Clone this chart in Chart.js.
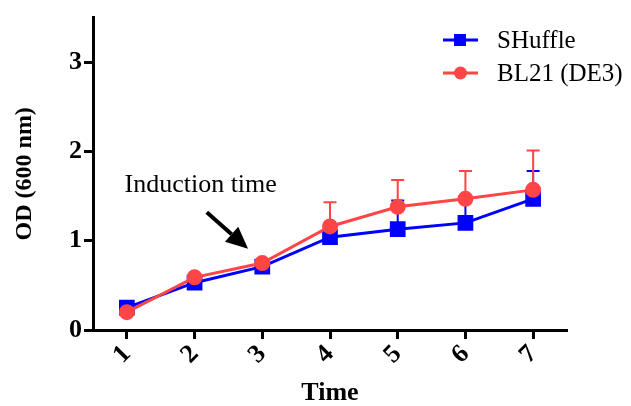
<!DOCTYPE html>
<html>
<head>
<meta charset="utf-8">
<script src="https://cdn.jsdelivr.net/npm/chart.js@4"></script>
<style>
  html, body { margin: 0; padding: 0; background: #fff; }
  #wrap { width: 631px; height: 406px; position: relative; }
</style>
</head>
<body>
<div id="wrap"><canvas id="c" width="631" height="406"></canvas></div>
<script>
const timeLabels = ['1', '2', '3', '4', '5', '6', '7'];
const shuffleOD = [0.25, 0.53, 0.71, 1.04, 1.13, 1.20, 1.47];
const shuffleErrTop = [0.27, 0.55, 0.73, 1.17, 1.45, 1.49, 1.78];
const bl21OD = [0.20, 0.59, 0.75, 1.16, 1.38, 1.47, 1.57];
const bl21ErrTop = [0.21, 0.61, 0.77, 1.43, 1.68, 1.78, 2.01];
const yTicks = [0, 1, 2, 3];
const seriesNames = ['SHuffle', 'BL21 (DE3)'];
const annotationText = 'Induction time';

const BLUE = '#0000FF';
const RED = '#FF4545';
const SERIF = '"Liberation Serif", "Times New Roman", serif';

const errorBars = {
  id: 'errorBars',
  beforeDatasetsDraw(chart) {
    const ctx = chart.ctx;
    const xs = chart.scales.x, ys = chart.scales.y;
    const sets = [[shuffleOD, shuffleErrTop, BLUE], [bl21OD, bl21ErrTop, RED]];
    ctx.save();
    sets.forEach(([vals, tops, col]) => {
      ctx.strokeStyle = col;
      ctx.lineWidth = 2;
      vals.forEach((v, i) => {
        const x = xs.getPixelForValue(i);
        const y0 = ys.getPixelForValue(v);
        const y1 = ys.getPixelForValue(tops[i]);
        ctx.beginPath();
        ctx.moveTo(x, y0); ctx.lineTo(x, y1);
        ctx.moveTo(x - 6.5, y1); ctx.lineTo(x + 6.5, y1);
        ctx.stroke();
      });
    });
    ctx.restore();
  }
};

const extras = {
  id: 'extras',
  afterDraw(chart) {
    const ctx = chart.ctx;
    const xs = chart.scales.x, ys = chart.scales.y;
    ctx.save();
    ctx.fillStyle = '#000';
    ctx.font = '26px ' + SERIF;
    ctx.textAlign = 'center';
    ctx.textBaseline = 'middle';
    ctx.fillText(annotationText, xs.getPixelForValue(1.09), ys.getPixelForValue(1.62));
    const sx = xs.getPixelForValue(1.18), sy = ys.getPixelForValue(1.32);
    const tx = xs.getPixelForValue(1.79), ty = ys.getPixelForValue(0.91);
    const ang = Math.atan2(ty - sy, tx - sx);
    const headLen = 22, headW = 10;
    const bx = tx - headLen * Math.cos(ang), by = ty - headLen * Math.sin(ang);
    ctx.strokeStyle = '#000';
    ctx.lineWidth = 4;
    ctx.beginPath(); ctx.moveTo(sx, sy); ctx.lineTo(bx, by); ctx.stroke();
    ctx.beginPath();
    ctx.moveTo(tx, ty);
    ctx.lineTo(bx + headW * Math.sin(ang), by - headW * Math.cos(ang));
    ctx.lineTo(bx - headW * Math.sin(ang), by + headW * Math.cos(ang));
    ctx.closePath();
    ctx.fill();
    const items = [[seriesNames[0], BLUE, 'rect', 40], [seriesNames[1], RED, 'circle', 73]];
    items.forEach(([name, col, shape, y]) => {
      ctx.strokeStyle = col; ctx.fillStyle = col; ctx.lineWidth = 3;
      ctx.beginPath(); ctx.moveTo(443, y); ctx.lineTo(478, y); ctx.stroke();
      if (shape === 'rect') { ctx.fillRect(454, y - 6, 12, 12); }
      else { ctx.beginPath(); ctx.arc(460.5, y, 6.5, 0, Math.PI * 2); ctx.fill(); }
      ctx.fillStyle = '#000';
      ctx.font = '25px ' + SERIF;
      ctx.textAlign = 'left';
      ctx.textBaseline = 'middle';
      ctx.fillText(name, 497, y + 1);
    });
    ctx.restore();
  }
};

new Chart(document.getElementById('c'), {
  type: 'line',
  data: {
    labels: timeLabels,
    datasets: [
      { label: seriesNames[0], data: shuffleOD, borderColor: BLUE, backgroundColor: BLUE, order: 1,
        borderWidth: 3, pointStyle: 'rect', pointRadius: 9, pointHoverRadius: 9, tension: 0 },
      { label: seriesNames[1], data: bl21OD, borderColor: RED, backgroundColor: RED, order: 0,
        borderWidth: 3, pointStyle: 'circle', pointRadius: 6.5, pointHoverRadius: 6.5, tension: 0 }
    ]
  },
  options: {
    responsive: false,
    animation: false,
    layout: { padding: { top: 15, right: 64, left: 0, bottom: 0 } },
    plugins: { legend: { display: false }, tooltip: { enabled: false } },
    scales: {
      x: {
        type: 'category',
        offset: true,
        grid: { drawOnChartArea: false, offset: false, tickLength: 9, tickWidth: 3, tickColor: '#000' },
        border: { color: '#000', width: 3 },
        ticks: { color: '#000', font: { family: SERIF, size: 26, weight: 'bold' }, minRotation: 45, maxRotation: 45, padding: 0 },
        title: { display: true, text: 'Time', color: '#000', font: { family: SERIF, size: 26, weight: 'bold', lineHeight: 1 }, padding: 0 },
        afterFit(s) { s.height = 76; }
      },
      y: {
        min: 0, max: 3.5,
        afterBuildTicks(s) { s.ticks = yTicks.map(v => ({ value: v })); },
        grid: { drawOnChartArea: false, tickLength: 9, tickWidth: 3, tickColor: '#000' },
        border: { color: '#000', width: 3 },
        ticks: { color: '#000', font: { family: SERIF, size: 26, weight: 'bold' }, padding: 2 },
        title: { display: true, text: 'OD (600 nm)', color: '#000', font: { family: SERIF, size: 24, weight: 'bold', lineHeight: 1 }, padding: { top: 13, bottom: 0 } },
        afterFit(s) { s.width = 93; }
      }
    }
  },
  plugins: [errorBars, extras]
});
</script>
</body>
</html>
